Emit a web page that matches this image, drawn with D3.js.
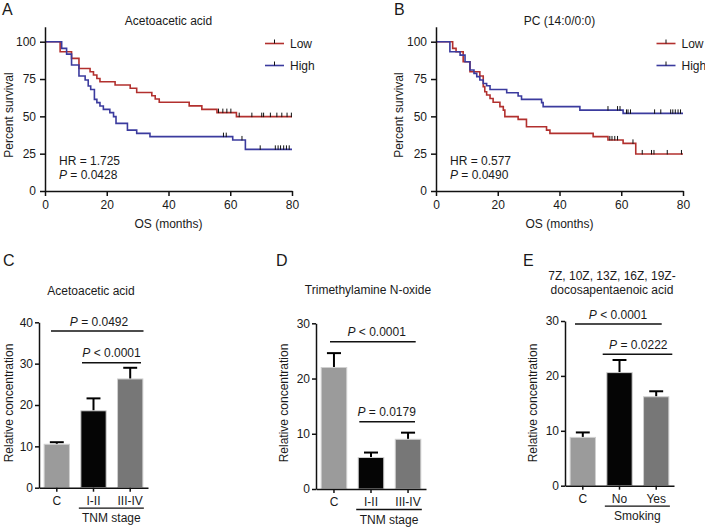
<!DOCTYPE html>
<html>
<head>
<meta charset="utf-8">
<script src="https://cdn.jsdelivr.net/npm/d3@7"></script>
<style>
  html, body { margin: 0; padding: 0; background: #fff; }
  svg { display: block; }
  text { font-family: "Liberation Sans", Arial, sans-serif; fill: #1a1a1a; }
</style>
</head>
<body>
<svg id="chart" width="705" height="527"></svg>
<script>
// ---------------- DATA ----------------
const kmMonthTicks = [0, 20, 40, 60, 80];
const kmSurvTicks = [0, 25, 50, 75, 100];
const kmGroups = ["Low", "High"];

// Panel A: Acetoacetic acid
const aLowTimes   = [4.9, 8.6, 11, 14.6, 15.7, 16.8, 17.8, 22.7, 27.6, 29.7, 34.6, 35.7, 37, 46.7, 50.8, 55.7, 62];
const aLowSurv    = [93.3, 88.8, 82.1, 79.9, 77.7, 75.4, 73.2, 71, 68.8, 66, 63.8, 61.6, 59.4, 57, 54.7, 52.5, 49.8];
const aLowCensor  = [56.2, 57.6, 58.9, 60.2, 62.9, 67, 70.2, 70.8, 73, 75.1, 76.7, 78.4, 79.8];
const aHighTimes  = [5.4, 7, 8.6, 11, 13, 14, 14.8, 16, 16.8, 17.8, 18.9, 21, 22.2, 23, 26.7, 29.7, 34, 60.8, 64.9];
const aHighSurv   = [95.5, 91.7, 84.4, 77, 74.3, 70.3, 68, 61.4, 59.2, 56.9, 54.7, 52.5, 49.8, 45.3, 40.8, 38.6, 36.4, 34.2, 27.9];
const aHighCensor = [57.8, 58.7, 63.8, 69.7, 74.6, 75.5, 76.3, 77.3, 78.2, 79.1];
const aStats = ["HR = 1.725", "0.0428"];

// Panel B: PC (14:0/0:0)
const bLowTimes   = [5.4, 6.5, 8.8, 11, 14.2, 15.3, 15.8, 16.4, 17.5, 18.5, 20.7, 21.8, 22.3, 26.6, 29.3, 35.8, 36.9, 50.9, 55.7, 60.6, 64.7];
const bLowSurv    = [95.5, 93.3, 86.6, 79.9, 77, 69.9, 66.5, 64.3, 62, 59.4, 56.5, 54.2, 49.8, 48, 43, 40.8, 38.6, 36.4, 34.2, 31.9, 24.8];
const bLowCensor  = [56.3, 57, 57.9, 58.8, 63.8, 66.8, 69.8, 70.6, 74.9, 79.5];
const bHighTimes  = [4.5, 7.8, 9.4, 11, 12.3, 13.2, 14.2, 15.3, 16.4, 17.5, 22.9, 26.6, 27.7, 34.2, 34.7, 46.6, 60.6];
const bHighSurv   = [93.3, 91, 86.6, 81, 78.8, 76.6, 74.3, 72, 70.5, 68, 65.8, 63.6, 61.4, 59.2, 56.5, 54.2, 52];
const bHighCensor = [55.7, 58.8, 59.6, 61.7, 62.2, 63, 70.8, 72.8, 76, 76.7, 77.5, 78.4, 79.2];
const bStats = ["HR = 0.577", "0.0490"];

// Panel C: Acetoacetic acid by TNM stage
const cCategories = ["C", "I-II", "III-IV"];
const cMeans  = [10.5, 18.6, 26.3];
const cErrors = [0.5, 3.0, 2.7];
const cTicks  = [0, 10, 20, 30, 40];
const cPvals  = ["= 0.0492", "< 0.0001"];

// Panel D: Trimethylamine N-oxide by TNM stage
const dCategories = ["C", "I-II", "III-IV"];
const dMeans  = [22.0, 5.7, 9.0];
const dErrors = [2.6, 0.9, 1.2];
const dTicks  = [0, 10, 20, 30];
const dPvals  = ["< 0.0001", "= 0.0179"];

// Panel E: docosapentaenoic acid by smoking
const eCategories = ["C", "No", "Yes"];
const eMeans  = [8.8, 20.6, 16.2];
const eErrors = [0.9, 2.3, 1.0];
const eTicks  = [0, 10, 20, 30];
const ePvals  = ["< 0.0001", "= 0.0222"];

// ---------------- DRAWING ----------------
const svg = d3.select("#chart");
const RED = "#b2302e", BLUE = "#3b3b9e";
const FS = 12;

function label(x, y, t) {
  svg.append("text").attr("x", x).attr("y", y).attr("font-size", 16).text(t);
}

function stepSeries(times, surv) {
  const pts = [[0, 100]];
  times.forEach((t, i) => pts.push([t, surv[i]]));
  pts.push([80, surv[surv.length - 1]]);
  return pts;
}
function survAt(times, surv, t) {
  let s = 100;
  times.forEach((tt, i) => { if (tt <= t) s = surv[i]; });
  return s;
}

function drawKM(cfg) {
  const x = d3.scaleLinear().domain([0, 80]).range([cfg.x0, cfg.x1]);
  const y = d3.scaleLinear().domain([0, 100]).range([cfg.yBottom, cfg.yTop]);
  const g = svg.append("g");

  g.append("text").attr("x", (cfg.x0 + cfg.x1) / 2).attr("y", 24.5)
    .attr("text-anchor", "middle").attr("font-size", FS).text(cfg.title);

  const line = d3.line().x(d => x(d[0])).y(d => y(d[1])).curve(d3.curveStepAfter);
  cfg.series.forEach(s => {
    g.append("path").datum(stepSeries(s.times, s.surv))
      .attr("d", line).attr("fill", "none").attr("stroke", s.color)
      .attr("stroke-width", 1.6);
    g.selectAll(null).data(s.censor).enter().append("line")
      .attr("x1", d => x(d)).attr("x2", d => x(d))
      .attr("y1", d => y(survAt(s.times, s.surv, d)) - 4)
      .attr("y2", d => y(survAt(s.times, s.surv, d)) + 0.5)
      .attr("stroke", "#111").attr("stroke-width", 1);
  });

  const yAxisScale = d3.scaleLinear().domain([0, 110]).range([cfg.yBottom, y(110)]);
  const ya = g.append("g").attr("transform", `translate(${cfg.x0},0)`)
    .call(d3.axisLeft(yAxisScale).tickValues(kmSurvTicks).tickSize(5).tickSizeOuter(0).tickPadding(4));
  const xa = g.append("g").attr("transform", `translate(0,${cfg.yBottom})`)
    .call(d3.axisBottom(x).tickValues(kmMonthTicks).tickSize(5).tickSizeOuter(0).tickPadding(4));
  [ya, xa].forEach(a => {
    a.selectAll("path,line").attr("stroke", "#111").attr("stroke-width", 1.5);
    a.selectAll("text").attr("font-size", FS).attr("font-family", "Liberation Sans, Arial, sans-serif").attr("fill", "#1a1a1a");
  });

  g.append("text").attr("x", (cfg.x0 + cfg.x1) / 2).attr("y", 228)
    .attr("text-anchor", "middle").attr("font-size", FS).text("OS (months)");
  g.append("text").attr("transform", `translate(${cfg.yTitleX},115) rotate(-90)`)
    .attr("text-anchor", "middle").attr("font-size", FS).text("Percent survival");

  g.append("text").attr("x", cfg.x0 + 14).attr("y", 164.5).attr("font-size", FS).text(cfg.stats[0]);
  const pt = g.append("text").attr("x", cfg.x0 + 14).attr("y", 178.5).attr("font-size", FS);
  pt.append("tspan").attr("font-style", "italic").text("P");
  pt.append("tspan").text(" = " + cfg.stats[1]);

  cfg.series.forEach((s, i) => {
    const ly = 43.5 + i * 22;
    g.append("line").attr("x1", cfg.legX).attr("x2", cfg.legX + 19)
      .attr("y1", ly).attr("y2", ly).attr("stroke", s.color).attr("stroke-width", 1.6);
    g.append("line").attr("x1", cfg.legX + 9.5).attr("x2", cfg.legX + 9.5)
      .attr("y1", ly - 4).attr("y2", ly).attr("stroke", "#111").attr("stroke-width", 1);
    g.append("text").attr("x", cfg.legX + 25).attr("y", ly + 4.3)
      .attr("font-size", FS).text(kmGroups[i]);
  });
}

function drawBars(cfg) {
  const x = d3.scaleBand().domain(cfg.cats).range([cfg.x0, cfg.x1]).paddingInner(0.31).paddingOuter(0.14);
  const y = d3.scaleLinear().domain([0, cfg.max]).range([cfg.yBottom, cfg.yTop]);
  const g = svg.append("g");
  const fills = ["#9b9b9b", "#050505", "#777777"];

  cfg.title.forEach((t, i) => {
    g.append("text").attr("x", cfg.titleX).attr("y", cfg.titleY + i * 13.4)
      .attr("text-anchor", "middle").attr("font-size", FS).text(t);
  });

  const capW = x.bandwidth() * 0.55;
  cfg.means.forEach((m, i) => {
    const cx = x(cfg.cats[i]) + x.bandwidth() / 2;
    g.append("line").attr("x1", cx).attr("x2", cx).attr("y1", y(m)).attr("y2", y(m + cfg.errs[i]))
      .attr("stroke", "#000").attr("stroke-width", 2);
    g.append("line").attr("x1", cx - capW / 2).attr("x2", cx + capW / 2)
      .attr("y1", y(m + cfg.errs[i])).attr("y2", y(m + cfg.errs[i]))
      .attr("stroke", "#000").attr("stroke-width", 2);
  });
  g.selectAll(null).data(cfg.means).enter().append("rect")
    .attr("x", (d, i) => x(cfg.cats[i]))
    .attr("y", d => y(d))
    .attr("width", x.bandwidth())
    .attr("height", d => y(0) - y(d))
    .attr("fill", (d, i) => fills[i])
    .attr("stroke", "#d0d0d0").attr("stroke-width", 1);

  const ya = g.append("g").attr("transform", `translate(${cfg.x0},0)`)
    .call(d3.axisLeft(y).tickValues(cfg.ticks).tickSize(4).tickSizeOuter(0).tickPadding(2));
  const xa = g.append("g").attr("transform", `translate(0,${cfg.yBottom})`)
    .call(d3.axisBottom(x).tickSize(4).tickSizeOuter(0).tickPadding(4.5));
  [ya, xa].forEach(a => {
    a.selectAll("path,line").attr("stroke", "#111").attr("stroke-width", 1.5);
    a.selectAll("text").attr("font-size", FS).attr("font-family", "Liberation Sans, Arial, sans-serif").attr("fill", "#1a1a1a");
  });

  const gx0 = x(cfg.cats[1]) - 2, gx1 = x(cfg.cats[2]) + x.bandwidth() + 1;
  g.append("line").attr("x1", gx0).attr("x2", gx1).attr("y1", cfg.yBottom + 20.5).attr("y2", cfg.yBottom + 20.5)
    .attr("stroke", "#111").attr("stroke-width", 1.3);
  g.append("text").attr("x", (gx0 + gx1) / 2).attr("y", cfg.yBottom + 34.5)
    .attr("text-anchor", "middle").attr("font-size", FS).text(cfg.group);

  g.append("text").attr("transform", `translate(${cfg.yTitleX},403) rotate(-90)`)
    .attr("text-anchor", "middle").attr("font-size", FS).text("Relative concentration");

  cfg.sig.forEach((s, i) => {
    g.append("line").attr("x1", s.x0).attr("x2", s.x1).attr("y1", s.y).attr("y2", s.y)
      .attr("stroke", "#111").attr("stroke-width", 1.5);
    const t = g.append("text").attr("x", s.tx).attr("y", s.y - 5.5)
      .attr("text-anchor", "middle").attr("font-size", FS);
    t.append("tspan").attr("font-style", "italic").text("P");
    t.append("tspan").text(" " + cfg.pvals[i]);
  });
}

label(2, 15, "A");
label(394, 15, "B");
label(3, 266, "C");
label(276, 266, "D");
label(523, 266, "E");

drawKM({
  title: "Acetoacetic acid", x0: 45, x1: 292, yTop: 41.7, yBottom: 191, yTitleX: 12.5,
  legX: 265, stats: aStats,
  series: [
    { times: aLowTimes, surv: aLowSurv, censor: aLowCensor, color: RED },
    { times: aHighTimes, surv: aHighSurv, censor: aHighCensor, color: BLUE }
  ]
});
drawKM({
  title: "PC (14:0/0:0)", x0: 436, x1: 683, yTop: 41.7, yBottom: 191, yTitleX: 403,
  legX: 656.5, stats: bStats,
  series: [
    { times: bLowTimes, surv: bLowSurv, censor: bLowCensor, color: RED },
    { times: bHighTimes, surv: bHighSurv, censor: bHighCensor, color: BLUE }
  ]
});

drawBars({
  cats: cCategories, means: cMeans, errs: cErrors, ticks: cTicks, max: 40, pvals: cPvals,
  x0: 39, x1: 148, yTop: 322.3, yBottom: 487.7, yTitleX: 12.5,
  title: ["Acetoacetic acid"], titleX: 91, titleY: 295, group: "TNM stage",
  sig: [ { x0: 51, x1: 143.5, y: 331, tx: 99 }, { x0: 82, x1: 141, y: 362.7, tx: 111.5 } ]
});
drawBars({
  cats: dCategories, means: dMeans, errs: dErrors, ticks: dTicks, max: 30, pvals: dPvals,
  x0: 316, x1: 426, yTop: 323.3, yBottom: 489, yTitleX: 288,
  title: ["Trimethylamine N-oxide"], titleX: 368, titleY: 293.5, group: "TNM stage",
  sig: [ { x0: 330, x1: 415.7, y: 341.7, tx: 376.7 }, { x0: 359.3, x1: 415, y: 421.7, tx: 386.7 } ]
});
drawBars({
  cats: eCategories, means: eMeans, errs: eErrors, ticks: eTicks, max: 30, pvals: ePvals,
  x0: 565, x1: 674, yTop: 321, yBottom: 485.7, yTitleX: 536.5,
  title: ["7Z, 10Z, 13Z, 16Z, 19Z-", "docosapentaenoic acid"], titleX: 612, titleY: 280.3, group: "Smoking",
  sig: [ { x0: 575, x1: 661.7, y: 324, tx: 618 }, { x0: 602.7, x1: 672.3, y: 354.3, tx: 638.3 } ]
});
</script>
</body>
</html>
